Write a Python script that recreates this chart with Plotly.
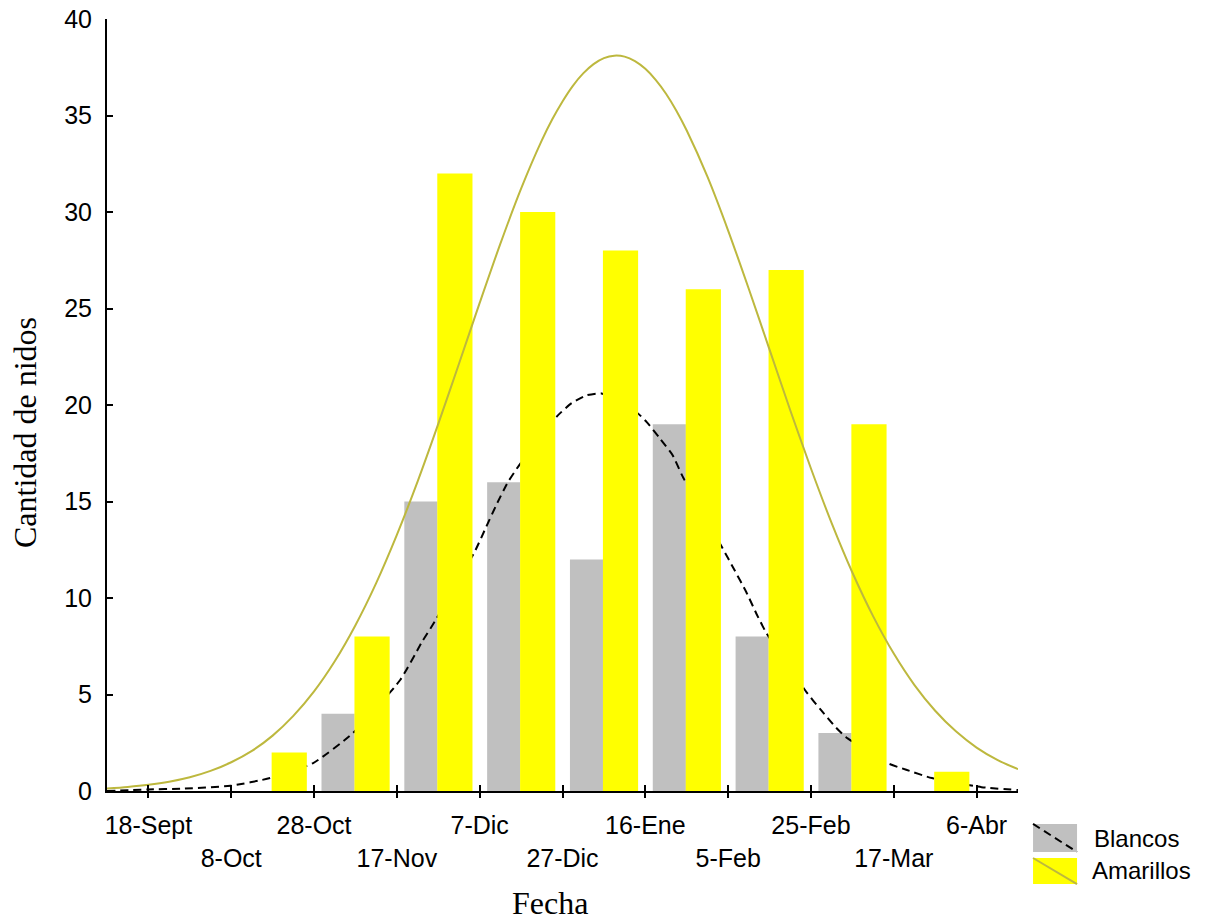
import plotly.graph_objects as go

# Fechas de muestreo (marcas del eje x)
fechas = ["18-Sept", "8-Oct", "28-Oct", "17-Nov", "7-Dic", "27-Dic",
          "16-Ene", "5-Feb", "25-Feb", "17-Mar", "6-Abr"]

# Intervalos entre fechas consecutivas (centro de cada intervalo)
intervalos = [0.5, 1.5, 2.5, 3.5, 4.5, 5.5, 6.5, 7.5, 8.5, 9.5]

# Cantidad de nidos por intervalo
blancos = [0, 0, 4, 15, 16, 12, 19, 8, 3, 0]
amarillos = [0, 2, 8, 32, 30, 28, 26, 27, 19, 1]

# Curva suavizada de nidos blancos
curva_blancos_x = [-0.5, 0.0, 0.39, 0.99, 1.47, 1.99, 2.47, 3.04, 3.30, 3.46,
                   3.94, 4.08, 4.21, 4.34, 4.48, 4.93, 5.11, 5.29, 5.47,
                   5.90, 6.02, 6.17, 6.33, 6.45, 6.93, 7.07, 7.22, 7.34,
                   7.46, 7.95, 8.12, 8.30, 8.42, 8.92, 9.15, 9.46, 10.06, 10.5]
curva_blancos_y = [0.0, 0.08, 0.12, 0.27, 0.67, 1.45, 3.0, 5.75, 7.7, 8.8,
                   12.4, 13.7, 14.9, 16.0, 16.9, 19.4, 20.1, 20.5, 20.6,
                   19.6, 19.1, 18.3, 17.4, 16.3, 12.6, 11.5, 10.3, 9.2,
                   8.2, 5.1, 4.2, 3.3, 2.8, 1.45, 1.1, 0.67, 0.2, 0.05]

# Curva ajustada de nidos amarillos
curva_amarillos_x = [-0.5, -0.25, 0.0, 0.25, 0.5, 0.75, 1.0, 1.25, 1.5, 1.75,
                     2.0, 2.25, 2.5, 2.75, 3.0, 3.25, 3.5, 3.75, 4.0, 4.25,
                     4.5, 4.75, 4.875, 5.0, 5.125, 5.25, 5.375, 5.5, 5.625,
                     5.75, 5.875, 6.0, 6.125, 6.25, 6.375, 6.5, 6.75,
                     7.0, 7.25, 7.5, 7.75, 8.0, 8.25, 8.5, 8.75, 9.0, 9.25,
                     9.5, 9.75, 10.0, 10.25, 10.5]
curva_amarillos_y = [0.13, 0.21, 0.32, 0.48, 0.71, 1.04, 1.49, 2.08, 2.87, 3.89,
                     5.16, 6.72, 8.59, 10.77, 13.27, 16.03, 19.02, 22.14, 25.29, 28.36,
                     31.21, 33.71, 34.79, 35.73, 36.54, 37.18, 37.66, 37.97, 38.10,
                     38.05, 37.82, 37.42, 36.85, 36.13, 35.25, 34.22, 31.83,
                     29.04, 26.01, 22.87, 19.73, 16.71, 13.88, 11.32, 9.06, 7.12, 5.49,
                     4.16, 3.09, 2.25, 1.61, 1.13]

GRIS = "#C0C0C0"
AMARILLO = "#FFFF00"
OLIVA = "rgb(189,184,62)"
SANS = "Liberation Sans, Arial, sans-serif"
SERIF = "Liberation Serif, Times New Roman, serif"

fig = go.Figure()

# Capa inferior: barras grises y su curva discontinua
fig.add_trace(go.Bar(x=intervalos, y=blancos, width=0.40, offset=-0.41,
                     marker=dict(color=GRIS, line=dict(width=0)),
                     name="Blancos", showlegend=False, xaxis="x", yaxis="y"))
fig.add_trace(go.Scatter(x=curva_blancos_x, y=curva_blancos_y, mode="lines",
                         line=dict(color="black", width=2, dash="8px,5px",
                                   shape="spline", smoothing=0.5),
                         showlegend=False, xaxis="x", yaxis="y"))

# Capa superior: barras amarillas y su curva ajustada
fig.add_trace(go.Bar(x=intervalos, y=amarillos, width=0.425, offset=-0.012,
                     marker=dict(color=AMARILLO, line=dict(width=0)),
                     name="Amarillos", showlegend=False, xaxis="x2", yaxis="y2"))
fig.add_trace(go.Scatter(x=curva_amarillos_x, y=curva_amarillos_y, mode="lines",
                         line=dict(color=OLIVA, width=2, shape="spline", smoothing=0.8),
                         showlegend=False, xaxis="x2", yaxis="y2"))

etiquetas = [f if i % 2 == 0 else "<br>" + f for i, f in enumerate(fechas)]
marcas = list(range(len(fechas)))

fig.update_layout(
    width=1206, height=924,
    margin=dict(l=107, r=188, t=19, b=133, autoexpand=False),
    paper_bgcolor="white", plot_bgcolor="white",
    showlegend=False,
    xaxis=dict(range=[-0.5, 10.5], tickvals=marcas, ticktext=etiquetas,
               ticks="outside", ticklen=5, tickwidth=1.5, tickcolor="black",
               showline=True, linewidth=2, linecolor="black",
               showgrid=False, zeroline=False, automargin=False,
               ticklabelstandoff=6,
               tickfont=dict(family=SANS, size=25, color="black")),
    yaxis=dict(range=[0, 40], tickvals=list(range(0, 41, 5)),
               ticks="inside", ticklen=6, tickwidth=1.5, tickcolor="black",
               showline=True, linewidth=2, linecolor="black",
               showgrid=False, zeroline=False, ticklabelstandoff=8,
               automargin=False,
               tickfont=dict(family=SANS, size=25, color="black")),
    xaxis2=dict(range=[-0.5, 10.5], overlaying="x", anchor="y2", side="bottom",
                tickvals=marcas, ticks="inside", ticklen=6, tickwidth=1.5,
                tickcolor="black", showticklabels=False, showline=False,
                showgrid=False, zeroline=False, automargin=False),
    yaxis2=dict(range=[0, 40], overlaying="y", visible=False, automargin=False),
)

# Títulos de los ejes
fig.add_annotation(text="Fecha", xref="paper", yref="paper", x=0.4863, y=-0.1451,
                   xanchor="center", yanchor="middle", showarrow=False,
                   font=dict(family=SERIF, size=32, color="black"))
fig.add_annotation(text="Cantidad de nidos", xref="paper", yref="paper",
                   x=-0.09, y=0.4637, xanchor="center", yanchor="middle",
                   textangle=-90, showarrow=False,
                   font=dict(family=SERIF, size=32, color="black"))

# Leyenda
fig.add_shape(type="rect", xref="paper", yref="paper", x0=1.0165, x1=1.0648,
              y0=-0.079, y1=-0.0427, fillcolor=GRIS, line=dict(width=0))
fig.add_shape(type="line", xref="paper", yref="paper", x0=1.0165, x1=1.0648,
              y0=-0.0427, y1=-0.079, line=dict(color="black", width=2, dash="8px,5px"))
fig.add_shape(type="rect", xref="paper", yref="paper", x0=1.0165, x1=1.0648,
              y0=-0.1205, y1=-0.0868, fillcolor=AMARILLO, line=dict(width=0))
fig.add_shape(type="line", xref="paper", yref="paper", x0=1.0165, x1=1.0648,
              y0=-0.0868, y1=-0.1205, line=dict(color=OLIVA, width=2))
fig.add_annotation(text="Blancos", xref="paper", yref="paper", x=1.0812, y=-0.0609,
                   xanchor="left", yanchor="middle", showarrow=False,
                   font=dict(family=SANS, size=24, color="black"))
fig.add_annotation(text="Amarillos", xref="paper", yref="paper", x=1.079, y=-0.1036,
                   xanchor="left", yanchor="middle", showarrow=False,
                   font=dict(family=SANS, size=24, color="black"))

fig.write_html("out.html")
